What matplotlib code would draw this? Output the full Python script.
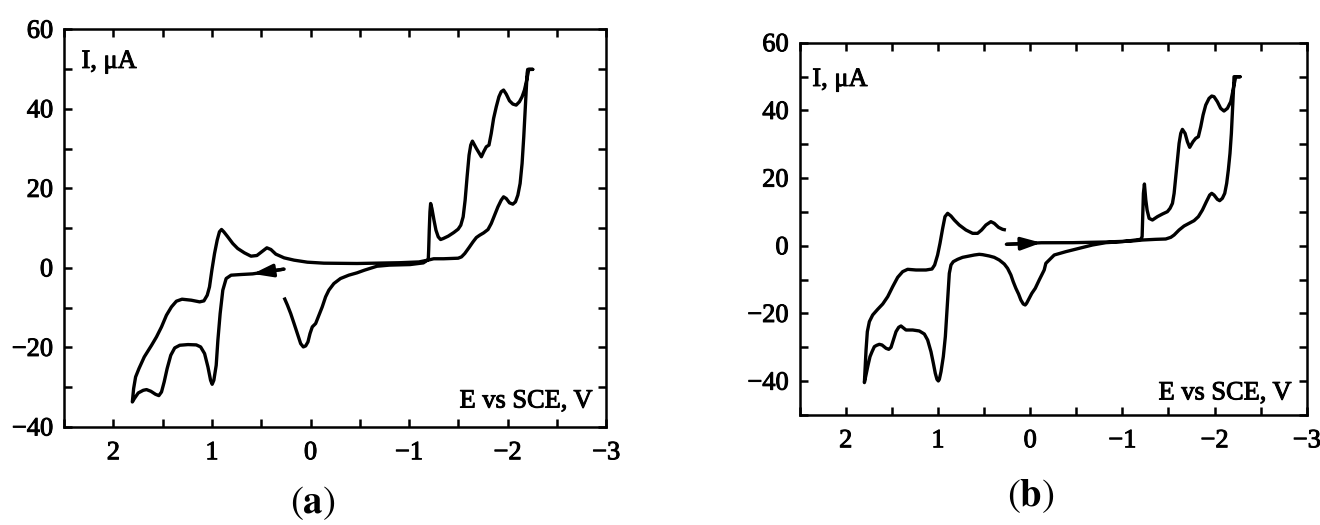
import matplotlib

matplotlib.use("Agg")
import matplotlib.pyplot as plt
import matplotlib.patheffects as pe
from matplotlib.ticker import MultipleLocator

# ---- panel (a): scan starts at +0.27 V and runs positive first ----
# lower branch, start -> positive vertex
a_fwd_e = [0.268, 0.45, 0.587, 0.705, 0.806, 0.856, 0.890, 0.917, 0.940, 0.957, 0.981,
           0.998, 1.014, 1.041, 1.075, 1.115, 1.159, 1.243, 1.327, 1.378, 1.418, 1.455,
           1.485, 1.512, 1.539, 1.573, 1.620, 1.664, 1.697, 1.748, 1.788, 1.808]
a_fwd_i = [-0.3, -1.0, -1.5, -1.66, -1.83, -2.67, -5.60, -11.48, -18.19, -24.48, -28.26,
           -29.26, -28.26, -24.90, -21.54, -19.87, -19.36, -19.28, -19.45, -20.12, -21.96, -25.32,
           -28.67, -31.19, -32.11, -31.78, -31.02, -30.60, -30.77, -31.44, -32.87, -33.71]
# upper branch, positive vertex -> negative vertex
a_neg_e = [1.795, 1.775, 1.741, 1.687, 1.613, 1.563, 1.512, 1.462, 1.411, 1.361, 1.304,
           1.210, 1.125, 1.082, 1.048, 1.025, 1.001, 0.974, 0.947, 0.924, 0.903, 0.880,
           0.840, 0.789, 0.739, 0.671, 0.604, 0.544, 0.496, 0.443, 0.402, 0.352, 0.268,
           0.167, 0.032, -0.136, -0.472, -0.9, -1.1, -1.2, -1.25, -1.35, -1.498, -1.532,
           -1.565, -1.609, -1.649, -1.683, -1.717, -1.757, -1.801, -1.834, -1.868, -1.902,
           -1.935, -1.959, -1.986, -2.019, -2.053, -2.080, -2.104, -2.127, -2.147, -2.164,
           -2.178, -2.188, -2.198, -2.204, -2.255]
a_neg_i = [-30.35, -27.42, -25.32, -22.38, -19.45, -17.35, -14.83, -11.90, -9.80, -8.37, -7.87,
           -8.12, -8.54, -8.29, -6.86, -4.77, -0.57, 3.62, 6.98, 9.08, 9.66, 9.08,
           7.82, 6.14, 4.88, 3.79, 2.95, 3.12, 4.04, 5.05, 4.63, 3.46, 2.53,
           1.95, 1.44, 1.19, 1.11, 1.3, 1.5, 2.0, 2.3, 2.3, 2.44, 2.77,
           3.61, 5.12, 6.55, 7.64, 8.23, 8.81, 9.65, 11.16, 13.26, 15.36,
           17.03, 17.87, 17.45, 16.36, 16.03, 16.62, 18.29, 21.23, 26.26, 32.97,
           39.69, 44.72, 48.91, 49.92, 49.92]
# return sweep, negative vertex -> end of scan
a_ret_e = [-2.215, -2.194, -2.171, -2.147, -2.120, -2.087, -2.053, -2.019, -1.986, -1.959,
           -1.935, -1.912, -1.885, -1.858, -1.834, -1.811, -1.784, -1.757, -1.734, -1.710,
           -1.683, -1.656, -1.643, -1.626, -1.609, -1.589, -1.569, -1.549, -1.525, -1.498,
           -1.454, -1.397, -1.347, -1.320, -1.296, -1.273, -1.253, -1.232, -1.219, -1.212,
           -1.205, -1.199, -1.195, -1.145, -1.010, -0.8, -0.674, -0.547, -0.472, -0.388,
           -0.304, -0.237, -0.186, -0.153, -0.119, -0.085, -0.052, -0.018, 0.005, 0.026,
           0.049, 0.073, 0.100, 0.133, 0.167, 0.201, 0.234, 0.268]
a_ret_i = [49.92, 47.24, 44.72, 43.04, 41.78, 40.94, 41.20, 42.03, 43.71, 44.72,
           44.30, 43.04, 40.52, 37.59, 33.81, 30.88, 30.46, 29.20, 27.94, 28.95,
           30.04, 31.30, 31.88, 30.88, 28.36, 22.91, 17.03, 12.84, 10.74, 9.74,
           8.90, 7.98, 7.39, 7.14, 7.81, 9.49, 12.0, 14.94, 16.20, 14.10,
           9.49, 4.45, 2.10, 1.26, 0.84, 0.7, 0.42, -0.57, -1.24, -1.83,
           -2.67, -3.93, -5.60, -7.28, -9.80, -11.90, -13.99, -14.83, -16.51, -18.61,
           -19.61, -19.87, -19.03, -16.51, -13.99, -11.48, -9.38, -7.45]

# ---- panel (b): scan starts at +0.26 V and runs negative first ----
b_fwd_e = [0.258, -0.122, -0.459, -0.820, -1.109, -1.218, -1.362, -1.470, -1.525, -1.561,
           -1.615, -1.669, -1.723, -1.777, -1.824, -1.868, -1.911, -1.947, -1.969, -1.994,
           -2.030, -2.055, -2.084, -2.110, -2.131, -2.149, -2.167, -2.182, -2.193, -2.203,
           -2.211, -2.276]
b_fwd_i = [0.44, 0.9, 0.92, 1.12, 1.42, 1.71, 1.91, 2.01, 2.50, 3.19,
           4.67, 5.85, 6.64, 7.42, 8.61, 10.57, 13.04, 15.0, 15.50, 15.0,
           13.73, 13.33, 14.02, 15.5, 18.45, 22.39, 27.31, 33.22, 39.13, 45.04,
           49.96, 49.96]
b_ret_e = [-2.229, -2.200, -2.175, -2.139, -2.102, -2.066, -2.030, -1.994, -1.969, -1.940,
           -1.904, -1.875, -1.850, -1.824, -1.795, -1.766, -1.730, -1.705, -1.680, -1.651,
           -1.633, -1.615, -1.597, -1.579, -1.561, -1.543, -1.517, -1.488, -1.434, -1.380,
           -1.326, -1.290, -1.268, -1.254, -1.239, -1.228, -1.221, -1.214, -1.199, -1.001,
           -0.820, -0.676, -0.531, -0.387, -0.261, -0.170, -0.152, -0.098, -0.055, -0.018,
           0.010, 0.039, 0.054, 0.075, 0.101, 0.126, 0.155, 0.184, 0.209, 0.245,
           0.281, 0.335, 0.390, 0.444, 0.516, 0.552, 0.606, 0.660, 0.733, 0.787,
           0.834, 0.859, 0.877, 0.888, 0.902, 0.920, 0.942, 0.967, 0.985, 0.996,
           1.011, 1.029, 1.050, 1.076, 1.112, 1.148, 1.202, 1.274, 1.347, 1.383,
           1.401, 1.426, 1.455, 1.484, 1.509, 1.534, 1.563, 1.607, 1.636, 1.665,
           1.690, 1.715, 1.737, 1.758, 1.780, 1.798]
b_ret_i = [49.96, 46.03, 42.58, 40.61, 39.82, 40.61, 42.58, 44.06, 44.25, 43.56,
           41.59, 38.64, 35.19, 32.24, 31.75, 30.76, 29.09, 30.76, 33.22, 34.40,
           33.22, 30.27, 25.35, 20.42, 15.5, 12.54, 11.07, 10.08, 9.39, 8.61,
           7.62, 8.11, 10.57, 13.53, 18.26, 15.5, 8.61, 2.70, 1.91, 1.22,
           0.92, 0.24, -0.75, -1.73, -2.72, -5.18, -7.15, -10.10, -12.57, -14.04,
           -15.52, -17.0, -17.49, -17.19, -16.01, -14.24, -12.57, -10.60, -8.63, -6.66,
           -5.38, -4.20, -3.41, -3.01, -2.62, -2.52, -2.72, -3.01, -3.41, -4.0,
           -4.69, -5.67, -8.14, -13.06, -18.97, -26.84, -32.75, -37.18, -39.45, -39.94,
           -39.45, -37.68, -34.72, -31.28, -27.83, -26.06, -25.17, -24.88, -24.88, -24.09,
           -23.69, -24.09, -25.37, -27.83, -30.0, -30.59, -30.29, -29.31, -29.11, -29.41,
           -29.80, -31.28, -32.75, -35.21, -38.17, -40.43]
b_pos_e = [1.791, 1.780, 1.766, 1.744, 1.708, 1.654, 1.599, 1.545, 1.491, 1.437, 1.383,
           1.329, 1.238, 1.130, 1.065, 1.036, 1.004, 0.978, 0.949, 0.924, 0.895, 0.859,
           0.823, 0.769, 0.697, 0.624, 0.570, 0.527, 0.480, 0.426, 0.390, 0.343, 0.299, 0.263]
b_pos_i = [-36.69, -30.78, -25.37, -22.41, -20.44, -18.77, -17.19, -15.03, -12.07, -9.32, -7.64,
           -6.95, -7.15, -7.15, -6.86, -5.67, -2.72, 0.73, 5.16, 8.61, 9.59, 8.80,
           7.62, 6.14, 4.67, 3.68, 3.68, 4.67, 6.14, 7.13, 6.64, 5.45, 4.86, 4.67]

plt.rcParams.update({
    "font.family": ["Liberation Serif", "DejaVu Serif"],
    "mathtext.fontset": "stix",
    "axes.linewidth": 1.8,
})

FS = 19
THICK = [pe.withStroke(linewidth=0.7, foreground="black")]


def style_axes(ax, ylim):
    ax.set_xlim(2.5, -3)
    ax.set_ylim(*ylim)
    ax.xaxis.set_major_locator(MultipleLocator(1))
    ax.xaxis.set_minor_locator(MultipleLocator(0.5))
    ax.yaxis.set_major_locator(MultipleLocator(20))
    ax.yaxis.set_minor_locator(MultipleLocator(10))
    ax.tick_params(which="both", direction="in", top=True, right=True,
                   length=6, width=1.8, labelsize=FS)
    ax.tick_params(axis="x", pad=11)
    ax.tick_params(axis="y", pad=8)
    for lbl in ax.get_xticklabels() + ax.get_yticklabels():
        lbl.set_path_effects(THICK)


def draw_panel(ax, e, i, ylim, lbl_i, lbl_e, tag, tag_xy, arrow_from, arrow_to):
    ax.plot(e, i, color="black", lw=2.4, solid_joinstyle="round", solid_capstyle="butt")
    ax.annotate("", xy=arrow_to, xytext=arrow_from,
                arrowprops=dict(arrowstyle="-|>,head_length=1.2,head_width=0.38",
                                color="black", lw=2.4, shrinkA=0, shrinkB=0))
    style_axes(ax, ylim)
    ax.text(lbl_i[0], lbl_i[1], "I, \u03bcA", transform=ax.transAxes,
            fontsize=FS, ha="left", va="center", path_effects=THICK)
    ax.text(lbl_e[0], lbl_e[1], "E vs SCE, V", transform=ax.transAxes,
            fontsize=FS, ha="right", va="center", path_effects=THICK)
    ax.figure.text(tag_xy[0], tag_xy[1], tag, fontsize=28, ha="center", va="center")


fig = plt.figure(figsize=(13.2, 5.25), dpi=100)
ax_a = fig.add_axes([0.0486, 0.1867, 0.4106, 0.7575])
ax_b = fig.add_axes([0.6058, 0.2095, 0.3842, 0.7091])

ea = a_fwd_e + a_neg_e + a_ret_e
ia = a_fwd_i + a_neg_i + a_ret_i
draw_panel(ax_a, ea, ia, (-40, 60), (0.032, 0.918), (0.975, 0.064),
           r"$(\mathbf{a})$", (0.237, 0.042),
           (ea[0], ia[0]), (ea[2], ia[2]))

eb = b_fwd_e + b_ret_e + b_pos_e
ib = b_fwd_i + b_ret_i + b_pos_i
draw_panel(ax_b, eb, ib, (-50, 60), (0.025, 0.90), (0.970, 0.058),
           r"$(\mathbf{b})$", (0.781, 0.055),
           (eb[0], ib[0]), (eb[1], ib[1]))

fig.savefig("out.png", dpi=100, facecolor="white")
